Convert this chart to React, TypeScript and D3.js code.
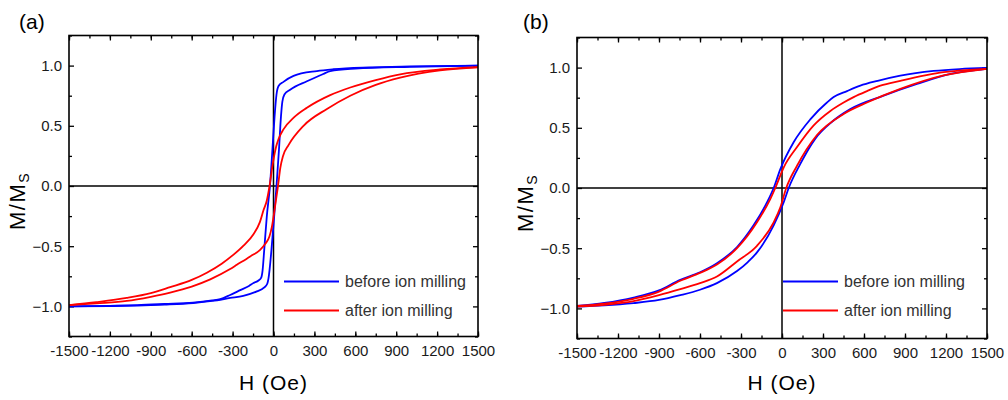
import React, { useEffect, useRef } from 'react';
import * as d3 from 'd3';

type Pt = [number, number];

// axes
const hMajor = [-1500, -1200, -900, -600, -300, 0, 300, 600, 900, 1200, 1500];
const hMinor = d3.range(-1500, 1501, 150);
const mMajor = [-1.0, -0.5, 0.0, 0.5, 1.0];
const mMinor = [-1.25, -0.75, -0.25, 0.25, 0.75, 1.25];

const seriesNames = ['before ion milling', 'after ion milling'];
const seriesColors = ['#0000ff', '#ff0000'];

// panel (a) - each branch listed with H increasing
const aBeforeDown: Pt[] = [
  [-1500, -1.0], [-1200, -0.995], [-1000, -0.99], [-800, -0.98], [-590, -0.968],
  [-450, -0.95], [-391, -0.94], [-318, -0.905], [-244, -0.865], [-180, -0.83],
  [-147, -0.805], [-110, -0.785], [-90, -0.76], [-80, -0.7], [-68, -0.53],
  [-49, -0.25], [-26, 0.0], [-8, 0.3], [8, 0.58], [22, 0.76], [37, 0.83],
  [73, 0.865], [147, 0.915], [318, 0.955], [440, 0.97], [700, 0.985],
  [1000, 0.993], [1500, 1.0],
];
const aBeforeUp: Pt[] = [
  [-1500, -1.0], [-1200, -0.997], [-1000, -0.993], [-800, -0.985], [-590, -0.972],
  [-450, -0.955], [-318, -0.93], [-222, -0.912], [-122, -0.875], [-70, -0.845],
  [-45, -0.81], [-37, -0.77], [-15, -0.53], [5, -0.25], [22, 0.0], [40, 0.3],
  [55, 0.58], [65, 0.7], [80, 0.76], [122, 0.8], [245, 0.87], [365, 0.93],
  [416, 0.955], [600, 0.975], [1000, 0.99], [1500, 1.0],
];
const aAfterDown: Pt[] = [
  [-1500, -0.99], [-1300, -0.965], [-1076, -0.93], [-900, -0.89], [-758, -0.84],
  [-600, -0.78], [-489, -0.72], [-380, -0.645], [-293, -0.57], [-220, -0.495],
  [-147, -0.4], [-100, -0.3], [-73, -0.2], [-49, -0.12], [-29, 0.0], [-10, 0.15],
  [5, 0.25], [20, 0.33], [37, 0.39], [73, 0.47], [150, 0.57], [245, 0.65],
  [416, 0.755], [563, 0.818], [750, 0.88], [929, 0.928], [1222, 0.968], [1500, 0.988],
];
const aAfterUp: Pt[] = [
  [-1500, -0.99], [-1300, -0.975], [-1076, -0.955], [-900, -0.92], [-758, -0.885],
  [-600, -0.835], [-464, -0.775], [-318, -0.69], [-269, -0.655], [-171, -0.585],
  [-98, -0.53], [-60, -0.48], [-30, -0.42], [-12, -0.34], [12, -0.166], [33, 0.0],
  [50, 0.15], [70, 0.25], [110, 0.34], [220, 0.5], [392, 0.64], [563, 0.75],
  [750, 0.84], [929, 0.9], [1222, 0.96], [1500, 0.985],
];

// panel (b)
const bBeforeDown: Pt[] = [
  [-1500, -0.98], [-1300, -0.955], [-1086, -0.91], [-900, -0.85], [-744, -0.762],
  [-600, -0.7], [-476, -0.625], [-329, -0.49], [-208, -0.31], [-110, -0.12],
  [-61, 0.0], [-12, 0.157], [85, 0.38], [207, 0.57], [329, 0.71], [378, 0.755],
  [476, 0.805], [573, 0.85], [700, 0.89], [866, 0.933], [1110, 0.972],
  [1300, 0.988], [1500, 0.997],
];
const bBeforeUp: Pt[] = [
  [-1500, -0.985], [-1300, -0.975], [-1086, -0.956], [-900, -0.93], [-744, -0.89],
  [-600, -0.845], [-476, -0.79], [-329, -0.69], [-250, -0.615], [-183, -0.535],
  [-61, -0.31], [12, -0.12], [49, 0.0], [134, 0.2], [244, 0.41], [366, 0.55],
  [500, 0.655], [744, 0.767], [988, 0.864], [1232, 0.948], [1500, 0.99],
];
const bAfterDown: Pt[] = [
  [-1500, -0.98], [-1300, -0.96], [-1086, -0.92], [-900, -0.86], [-744, -0.77],
  [-600, -0.705], [-476, -0.635], [-329, -0.5], [-183, -0.285], [-85, -0.09],
  [-49, 0.0], [12, 0.17], [110, 0.34], [232, 0.52], [354, 0.64], [451, 0.71],
  [524, 0.755], [622, 0.805], [720, 0.85], [866, 0.89], [1183, 0.962], [1500, 0.99],
];
const bAfterUp: Pt[] = [
  [-1500, -0.985], [-1300, -0.97], [-1086, -0.94], [-900, -0.89], [-744, -0.84],
  [-600, -0.79], [-476, -0.735], [-329, -0.61], [-183, -0.48], [-61, -0.285],
  [-12, -0.16], [31, 0.0], [110, 0.185], [256, 0.44], [451, 0.615], [622, 0.71],
  [866, 0.823], [1183, 0.935], [1500, 0.99],
];

const panels = [
  {
    label: '(a)', left: 69, top: 35.5, width: 409, height: 301,
    labelX: 19, yTitleX: 25, legendX: 215, legendY: 246,
    series: [[aBeforeDown, aBeforeUp], [aAfterDown, aAfterUp]],
  },
  {
    label: '(b)', left: 577, top: 37.5, width: 410, height: 301,
    labelX: 523, yTitleX: 533, legendX: 206, legendY: 244,
    series: [[bBeforeDown, bBeforeUp], [bAfterDown, bAfterUp]],
  },
];

const FONT = '"Liberation Sans", Arial, sans-serif';

const App = () => {
  const node = useRef<SVGSVGElement>(null);

  useEffect(() => {
    const svg = d3.select(node.current);
    svg.selectAll('*').remove();

    panels.forEach(p => {
      const x = d3.scaleLinear().domain([-1500, 1500]).range([0, p.width]);
      const y = d3.scaleLinear().domain([-1.25, 1.25]).range([p.height, 0]);

      // panel letter
      svg.append('text')
        .attr('x', p.labelX).attr('y', 29)
        .attr('font-family', FONT).attr('font-size', 21)
        .text(p.label);

      // y title
      const yt = svg.append('text')
        .attr('transform', `translate(${p.yTitleX},${p.top + p.height / 2 + 15}) rotate(-90)`)
        .attr('text-anchor', 'middle')
        .attr('font-family', FONT).attr('font-size', 22)
        .attr('letter-spacing', 1.5);
      yt.append('tspan').text('M/M');
      yt.append('tspan').attr('font-size', 14).attr('dy', 4).text('S');

      // x title
      svg.append('text')
        .attr('x', p.left + p.width / 2).attr('y', 390)
        .attr('text-anchor', 'middle')
        .attr('font-family', FONT).attr('font-size', 21)
        .attr('letter-spacing', 1)
        .text('H (Oe)');

      const main = svg.append('g').attr('transform', `translate(${p.left},${p.top})`);

      // zero lines
      main.append('line')
        .attr('x1', 0).attr('x2', p.width).attr('y1', y(0)).attr('y2', y(0))
        .attr('stroke', '#000').attr('stroke-width', 1.5);
      main.append('line')
        .attr('x1', x(0)).attr('x2', x(0)).attr('y1', 0).attr('y2', p.height)
        .attr('stroke', '#000').attr('stroke-width', 1.5);

      // ticks, all pointing inward
      const noLabel = () => '';
      const axes = [
        { ax: d3.axisBottom(x), t: `translate(0,${p.height})`, minor: hMinor },
        { ax: d3.axisTop(x), t: 'translate(0,0)', minor: hMinor },
        { ax: d3.axisLeft(y), t: 'translate(0,0)', minor: mMinor },
        { ax: d3.axisRight(y), t: `translate(${p.width},0)`, minor: mMinor },
      ];
      axes.forEach(a => {
        main.append('g').attr('transform', a.t)
          .call(a.ax.tickValues(a.minor).tickSizeInner(-3).tickSizeOuter(0).tickFormat(noLabel))
          .call(g => g.select('.domain').remove());
      });
      const bottom = main.append('g').attr('transform', `translate(0,${p.height})`)
        .call(d3.axisBottom(x).tickValues(hMajor).tickSizeInner(-5).tickSizeOuter(0).tickPadding(9)
          .tickFormat(d => String(d)))
        .call(g => g.select('.domain').remove());
      const left = main.append('g')
        .call(d3.axisLeft(y).tickValues(mMajor).tickSizeInner(-5).tickSizeOuter(0).tickPadding(7)
          .tickFormat(d3.format('.1f')))
        .call(g => g.select('.domain').remove());
      main.append('g')
        .call(d3.axisTop(x).tickValues(hMajor).tickSizeInner(-5).tickSizeOuter(0).tickFormat(noLabel))
        .call(g => g.select('.domain').remove());
      main.append('g').attr('transform', `translate(${p.width},0)`)
        .call(d3.axisRight(y).tickValues(mMajor).tickSizeInner(-5).tickSizeOuter(0).tickFormat(noLabel))
        .call(g => g.select('.domain').remove());
      [bottom, left].forEach(g => {
        g.attr('font-family', FONT).attr('font-size', 15);
        g.selectAll('text').attr('fill', '#1a1a1a');
      });
      main.selectAll('.tick line').attr('stroke', '#000').attr('stroke-width', 1.3);

      // loops
      const line = d3.line<Pt>()
        .x(d => x(d[0]))
        .y(d => y(d[1]))
        .curve(d3.curveMonotoneX);
      p.series.forEach((branches, i) => {
        branches.forEach(b => {
          main.append('path')
            .attr('d', line(b))
            .attr('fill', 'none')
            .attr('stroke', seriesColors[i])
            .attr('stroke-width', 1.8);
        });
      });

      // frame
      main.append('rect')
        .attr('width', p.width).attr('height', p.height)
        .attr('fill', 'none').attr('stroke', '#000').attr('stroke-width', 1.6);

      // legend
      seriesNames.forEach((name, i) => {
        const ly = p.legendY + i * 29;
        main.append('line')
          .attr('x1', p.legendX).attr('x2', p.legendX + 55)
          .attr('y1', ly).attr('y2', ly)
          .attr('stroke', seriesColors[i]).attr('stroke-width', 2);
        main.append('text')
          .attr('x', p.legendX + 61).attr('y', ly + 5)
          .attr('font-family', FONT).attr('font-size', 16)
          .attr('fill', '#333')
          .text(name);
      });
    });
  }, []);

  return (
    <svg
      ref={node}
      width={1008}
      height={400}
      style={{ position: 'absolute', left: 0, top: 0, background: '#fff' }}
    />
  );
};

export default App;
